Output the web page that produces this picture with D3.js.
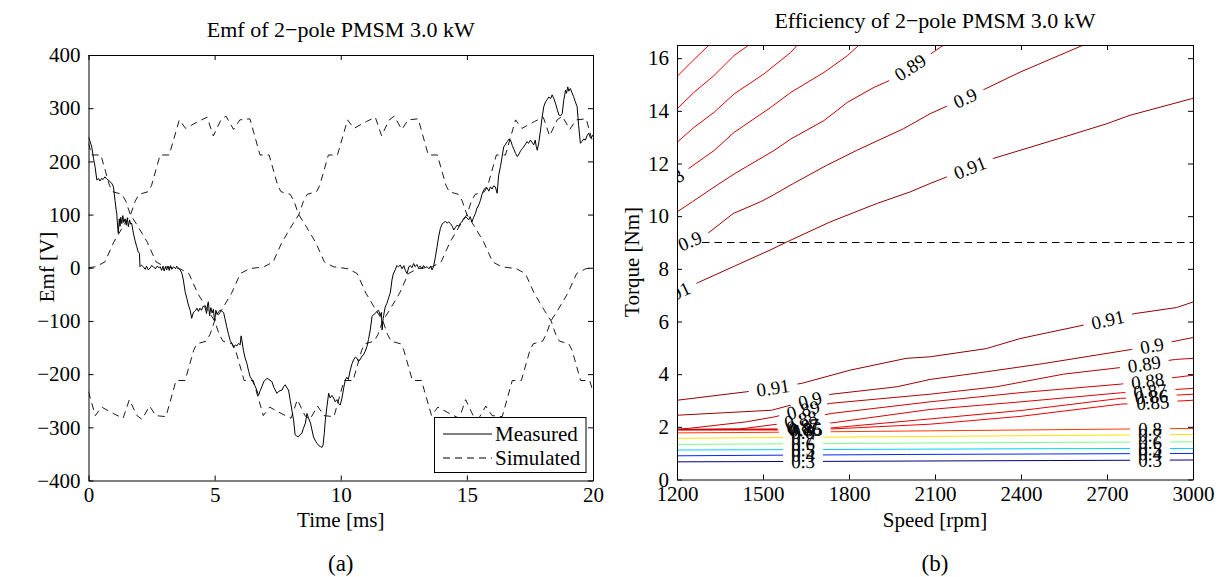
<!DOCTYPE html>
<html><head><meta charset="utf-8">
<script src="https://cdn.jsdelivr.net/npm/d3@7"></script>
<style>
body{margin:0;background:#fff}
svg{display:block}
text{font-family:"Liberation Serif","Times New Roman",serif;fill:#000}
</style>
</head><body>
<svg id="chart" width="1223" height="577"></svg>
<script>
// ---------------- Data: left panel (Emf) ----------------
const timeTicks = [0, 5, 10, 15, 20];
const emfTicks = [-400, -300, -200, -100, 0, 100, 200, 300, 400];

const measured = [
[0,246],[0.06,238],[0.13,227],[0.2,205],[0.26,190],[0.33,165],[0.4,168],[0.45,163],[0.52,168],[0.58,166],[0.65,171],[0.72,167],[0.78,165],[0.85,162],[0.92,159],[0.99,152],[1.05,127],[1.1,108],[1.12,102],[1.15,80],[1.18,65],[1.22,92],[1.25,78],[1.28,95],[1.32,83],[1.36,98],[1.4,85],[1.45,92],[1.5,80],[1.54,94],[1.58,77],[1.63,90],[1.67,82],[1.71,84],[1.78,65],[1.84,52],[1.91,40],[1.97,30],[2.02,27],[2.04,2],[2.1,5],[2.17,2],[2.25,-3],[2.3,3],[2.37,-4],[2.45,0],[2.5,4],[2.57,2],[2.65,-2],[2.72,3],[2.8,0],[2.84,2],[2.9,-5],[2.95,3],[3.0,-6],[3.05,2],[3.1,-4],[3.15,3],[3.2,-5],[3.25,4],[3.3,-3],[3.37,2],[3.45,-2],[3.5,3],[3.57,-1],[3.63,-4],[3.7,-10],[3.76,-23],[3.83,-45],[3.9,-58],[3.96,-70],[4.03,-80],[4.09,-95],[4.15,-85],[4.2,-82],[4.25,-80],[4.3,-76],[4.36,-82],[4.42,-76],[4.48,-80],[4.55,-72],[4.62,-74],[4.68,-86],[4.72,-70],[4.75,-64],[4.8,-90],[4.85,-75],[4.9,-85],[4.95,-78],[5.0,-100],[5.05,-80],[5.1,-88],[5.15,-83],[5.22,-80],[5.28,-81],[5.36,-85],[5.42,-98],[5.48,-111],[5.55,-125],[5.62,-137],[5.68,-142],[5.75,-150],[5.82,-145],[5.88,-147],[5.95,-142],[6.01,-145],[6.05,-128],[6.08,-136],[6.14,-155],[6.2,-168],[6.28,-180],[6.35,-195],[6.41,-205],[6.48,-210],[6.54,-217],[6.6,-222],[6.67,-230],[6.74,-240],[6.8,-232],[6.87,-224],[6.95,-214],[7.07,-208],[7.15,-210],[7.27,-214],[7.35,-225],[7.47,-236],[7.55,-232],[7.67,-230],[7.73,-224],[7.8,-220],[7.87,-226],[7.93,-230],[8.0,-250],[8.07,-270],[8.13,-286],[8.19,-314],[8.25,-316],[8.32,-318],[8.38,-314],[8.45,-312],[8.52,-302],[8.6,-292],[8.66,-274],[8.72,-282],[8.8,-292],[8.86,-305],[8.92,-318],[9.0,-326],[9.06,-330],[9.12,-334],[9.19,-336],[9.25,-338],[9.3,-333],[9.35,-310],[9.39,-286],[9.45,-262],[9.52,-236],[9.58,-245],[9.65,-240],[9.72,-245],[9.78,-252],[9.85,-248],[9.91,-255],[9.98,-258],[10.05,-245],[10.12,-225],[10.18,-211],[10.24,-206],[10.3,-210],[10.38,-192],[10.45,-180],[10.51,-173],[10.58,-168],[10.64,-170],[10.7,-176],[10.78,-172],[10.84,-166],[10.9,-164],[10.97,-157],[11.04,-148],[11.1,-135],[11.17,-117],[11.24,-92],[11.3,-88],[11.37,-86],[11.43,-82],[11.5,-80],[11.57,-90],[11.61,-84],[11.64,-117],[11.68,-96],[11.7,-90],[11.76,-74],[11.83,-67],[11.9,-56],[11.96,-48],[12.0,-35],[12.03,-23],[12.08,-12],[12.16,-4],[12.22,4],[12.29,2],[12.36,5],[12.43,-2],[12.5,4],[12.56,-5],[12.63,-11],[12.7,2],[12.76,4],[12.82,0],[12.89,8],[12.95,2],[13.02,6],[13.08,0],[13.15,3],[13.22,-2],[13.28,4],[13.35,0],[13.42,2],[13.5,-2],[13.56,3],[13.62,-4],[13.68,2],[13.75,20],[13.82,40],[13.88,58],[13.95,74],[14.02,82],[14.08,85],[14.15,87],[14.22,84],[14.28,86],[14.35,83],[14.42,78],[14.48,71],[14.55,76],[14.61,80],[14.68,78],[14.74,84],[14.8,86],[14.87,92],[14.94,96],[15.0,94],[15.07,90],[15.13,96],[15.2,86],[15.27,95],[15.34,102],[15.4,112],[15.47,118],[15.54,127],[15.6,138],[15.67,146],[15.73,150],[15.8,150],[15.87,144],[15.93,152],[16.0,148],[16.06,154],[16.13,152],[16.2,140],[16.26,174],[16.33,190],[16.4,210],[16.46,227],[16.53,232],[16.6,237],[16.67,242],[16.73,240],[16.8,230],[16.87,222],[16.93,215],[17.0,209],[17.07,214],[17.13,220],[17.2,224],[17.25,227],[17.32,232],[17.38,237],[17.45,234],[17.52,240],[17.58,236],[17.65,231],[17.71,240],[17.75,228],[17.79,221],[17.85,235],[17.92,259],[17.98,282],[18.05,303],[18.12,312],[18.18,316],[18.25,321],[18.32,318],[18.38,325],[18.45,318],[18.52,308],[18.58,298],[18.65,287],[18.72,286],[18.78,290],[18.84,315],[18.88,325],[18.91,334],[18.95,328],[19.0,340],[19.04,332],[19.1,337],[19.16,330],[19.23,322],[19.3,312],[19.37,303],[19.43,268],[19.5,234],[19.57,238],[19.63,242],[19.7,240],[19.76,248],[19.83,253],[19.9,244],[19.96,246],[20,250]
];

const simulatedA = [
[0,0],[0.3,2],[0.65,11],[1,48],[1.4,80],[1.67,100],[1.85,125],[2,138],[2.37,143],[2.5,155],[2.84,212],[3.2,212],[3.6,278],[3.85,262],[4.35,275],[4.7,283],[4.95,248],[5.25,278],[5.45,285],[5.75,260],[6,278],[6.4,280],[6.8,212],[7.16,212],[7.5,155],[7.63,143],[8,138],[8.15,125],[8.33,100],[8.6,80],[9,48],[9.35,11],[9.7,2],[10,0],
[10.3,-2],[10.65,-11],[11,-48],[11.4,-80],[11.67,-100],[11.85,-125],[12,-138],[12.37,-143],[12.5,-155],[12.84,-212],[13.2,-212],[13.6,-278],[13.85,-262],[14.35,-275],[14.7,-283],[14.95,-248],[15.25,-278],[15.45,-285],[15.75,-260],[16,-278],[16.4,-280],[16.8,-212],[17.16,-212],[17.5,-155],[17.63,-143],[18,-138],[18.15,-125],[18.33,-100],[18.6,-80],[19,-48],[19.35,-11],[19.7,-2],[20,0]
];
const simulatedB = [
[0,-233],[0.27,-278],[0.52,-262],[1.02,-275],[1.37,-283],[1.62,-248],[1.92,-278],[2.12,-285],[2.42,-260],[2.67,-278],[3.07,-280],[3.47,-212],[3.83,-212],[4.17,-155],[4.3,-143],[4.67,-138],[4.82,-125],[5,-100],[5.27,-80],[5.67,-48],[6.02,-11],[6.37,-2],[6.67,0],
[6.97,2],[7.32,11],[7.67,48],[8.07,80],[8.34,100],[8.52,125],[8.67,138],[9.04,143],[9.17,155],[9.51,212],[9.87,212],[10.27,278],[10.52,262],[11.02,275],[11.37,283],[11.62,248],[11.92,278],[12.12,285],[12.42,260],[12.67,278],[13.07,280],[13.47,212],[13.83,212],[14.17,155],[14.3,143],[14.67,138],[14.82,125],[15,100],[15.27,80],[15.67,48],[16.02,11],[16.37,2],[16.67,0],
[16.97,-2],[17.32,-11],[17.67,-48],[18.07,-80],[18.34,-100],[18.52,-125],[18.67,-138],[19.04,-143],[19.17,-155],[19.51,-212],[19.87,-212],[20,-233]
];
const simulatedC = [
[0,234],[0.13,212],[0.49,212],[0.83,155],[0.96,143],[1.33,138],[1.48,125],[1.66,100],[1.93,80],[2.33,48],[2.68,11],[3.03,2],[3.33,0],
[3.63,-2],[3.98,-11],[4.33,-48],[4.73,-80],[5,-100],[5.18,-125],[5.33,-138],[5.7,-143],[5.83,-155],[6.17,-212],[6.53,-212],[6.93,-278],[7.18,-262],[7.68,-275],[8.03,-283],[8.28,-248],[8.58,-278],[8.78,-285],[9.08,-260],[9.33,-278],[9.73,-280],[10.13,-212],[10.49,-212],[10.83,-155],[10.96,-143],[11.33,-138],[11.48,-125],[11.66,-100],[11.93,-80],[12.33,-48],[12.68,-11],[13.03,-2],[13.33,0],
[13.63,2],[13.98,11],[14.33,48],[14.73,80],[15,100],[15.18,125],[15.33,138],[15.7,143],[15.83,155],[16.17,212],[16.53,212],[16.93,278],[17.18,262],[17.68,275],[18.03,283],[18.28,248],[18.58,278],[18.78,285],[19.08,260],[19.33,278],[19.73,280],[20,234]
];
const seriesNames = ["Measured", "Simulated"];

// ---------------- Data: right panel (Efficiency contours) ----------------
const speedTicks = [1200, 1500, 1800, 2100, 2400, 2700, 3000];
const torqueTicks = [0, 2, 4, 6, 8, 10, 12, 14, 16];
const ratedTorque = 9;

// upper branch contours (speed [rpm], torque [Nm])
const effUp085 = [[1200,15.3],[1250,15.85],[1312,16.5]];
const effUp086 = [[1200,14.07],[1259,14.7],[1329,15.34],[1399,16.1],[1451,16.5]];
const effUp087 = [[1200,12.8],[1259,13.37],[1329,13.94],[1399,14.64],[1503,15.4],[1597,16.22],[1620,16.5]];
const effUp088 = [[1200,11.5],[1242,11.82],[1329,12.49],[1399,13.18],[1527,14.13],[1597,14.7],[1713,15.46],[1794,16.09],[1835,16.5]];
const effUp089 = [[1200,10.16],[1254,10.55],[1315,11.0],[1399,11.6],[1538,12.49],[1597,12.93],[1713,13.63],[1794,14.32],[1887,14.89],[1943,15.16],[2077,16.1],[2130,16.5]];
const effUp090 = [[1200,8.85],[1309,9.36],[1396,10.1],[1492,10.55],[1524,10.73],[1606,11.24],[1722,11.93],[1827,12.5],[1990,13.32],[2083,13.89],[2146,14.2],[2269,14.8],[2397,15.47],[2618,16.5]];
const effUp091 = [[1200,7.1],[1274,7.48],[1400,8.1],[1524,8.71],[1583,9.02],[1734,9.78],[1897,10.48],[2013,10.92],[2083,11.24],[2141,11.49],[2303,12.19],[2548,13.0],[2699,13.51],[2780,13.83],[2995,14.46],[3000,14.48]];
// lower branch contours
const effLo091 = [[1200,3.01],[1442,3.33],[1635,3.65],[1803,4.15],[1999,4.6],[2083,4.66],[2279,4.97],[2396,5.35],[2617,5.86],[2797,6.3],[2943,6.53],[3000,6.74]];
const effLo090 = [[1200,2.44],[1530,2.63],[1740,3.24],[1967,3.52],[2083,3.8],[2279,4.09],[2477,4.4],[2786,4.94],[2926,5.23],[3000,5.39]];
const effLo089 = [[1200,1.91],[1240,1.94],[1442,2.19],[1541,2.38],[1733,2.89],[2083,3.24],[2314,3.52],[2548,4.0],[2746,4.25],[2939,4.56],[3000,4.6]];
const effLo088 = [[1200,1.9],[1420,1.92],[1550,2.1],[1740,2.51],[2083,2.95],[2400,3.3],[2746,3.62],[3000,3.96]];
const effLo087 = [[1200,1.9],[1550,1.92],[1740,2.15],[2083,2.66],[2400,2.95],[2746,3.29],[3000,3.46]];
const effLo086 = [[1200,1.89],[1550,1.9],[1740,1.96],[2083,2.3],[2400,2.62],[2746,3.08],[3000,3.24]];
const effLo085 = [[1200,1.88],[1550,1.88],[1740,1.92],[2083,2.1],[2400,2.4],[2746,2.86],[3000,3.01]];
const eff080 = [[1200,1.77],[1500,1.79],[2000,1.84],[2500,1.89],[3000,1.94]];
const eff070 = [[1200,1.56],[1500,1.59],[2000,1.63],[2500,1.67],[3000,1.71]];
const eff060 = [[1200,1.33],[1500,1.35],[2000,1.38],[2500,1.41],[3000,1.43]];
const eff050 = [[1200,1.12],[1500,1.13],[2000,1.15],[2500,1.17],[3000,1.18]];
const eff040 = [[1200,0.9],[1500,0.92],[2000,0.95],[2500,0.97],[3000,0.99]];
const eff030 = [[1200,0.67],[1500,0.68],[2000,0.7],[2500,0.72],[3000,0.74]];

const contourLevels = [0.3, 0.4, 0.5, 0.6, 0.7, 0.8, 0.85, 0.86, 0.87, 0.88, 0.89, 0.9, 0.91];
const contourColors = ["#000080","#0028ff","#00cfff","#77ff88","#ffe000","#ff3800","#f00000","#e80000","#dc0000","#d00000","#b80000","#a00000","#900000"];

const contours = [
  {level:0.3, pts:eff030},{level:0.4, pts:eff040},{level:0.5, pts:eff050},{level:0.6, pts:eff060},
  {level:0.7, pts:eff070},{level:0.8, pts:eff080},
  {level:0.85, pts:effLo085},{level:0.86, pts:effLo086},{level:0.87, pts:effLo087},{level:0.88, pts:effLo088},
  {level:0.89, pts:effLo089},{level:0.9, pts:effLo090},{level:0.91, pts:effLo091},
  {level:0.85, pts:effUp085},{level:0.86, pts:effUp086},{level:0.87, pts:effUp087},{level:0.88, pts:effUp088},
  {level:0.89, pts:effUp089},{level:0.9, pts:effUp090},{level:0.91, pts:effUp091}
];
// contour label anchors: [curve, speed]
const labelSpots = [
  [effUp091,2222],[effUp091,1190],[effUp090,2205],[effUp090,1245],[effUp089,2013],[effUp088,1170],
  [effLo091,1535],[effLo091,2703],[effLo090,1664],[effLo090,2857],[effLo089,1640],[effLo089,2830],
  [effLo088,1632],[effLo088,2842],[effLo087,1640],[effLo087,2850],[effLo086,1645],[effLo086,2855],
  [effLo085,1650],[effLo085,2860],
  [eff080,1640],[eff080,2850],[eff070,1640],[eff070,2850],[eff060,1640],[eff060,2850],
  [eff050,1640],[eff050,2850],[eff040,1640],[eff040,2850],[eff030,1640],[eff030,2850]
];

// ---------------- Drawing ----------------
const svg = d3.select("#chart");
const FONT = 21, TITLE = 22, LF = 19;

function styleAxis(g){
  g.selectAll("path.domain").attr("stroke","#000").attr("stroke-width",1);
  g.selectAll(".tick line").attr("stroke","#000").attr("stroke-width",1);
  g.selectAll("text").attr("font-family",'"Liberation Serif","Times New Roman",serif').attr("font-size",FONT).attr("fill","#000");
  g.attr("font-family",null).attr("font-size",null);
}
function boxAxes(x, y, xt, yt){
  const [x0,x1] = x.range(), [y0,y1] = y.range();
  svg.append("g").attr("transform",`translate(0,${y0})`)
    .call(d3.axisBottom(x).tickValues(xt).tickSizeInner(-5).tickSizeOuter(0).tickPadding(7).tickFormat(d3.format("d"))).call(styleAxis);
  svg.append("g").attr("transform",`translate(0,${y1})`)
    .call(d3.axisTop(x).tickValues(xt).tickSizeInner(-5).tickSizeOuter(0).tickFormat(()=>"")).call(styleAxis);
  svg.append("g").attr("transform",`translate(${x0},0)`)
    .call(d3.axisLeft(y).tickValues(yt).tickSizeInner(-5).tickSizeOuter(0).tickPadding(8).tickFormat(d3.format("d"))).call(styleAxis);
  svg.append("g").attr("transform",`translate(${x1},0)`)
    .call(d3.axisRight(y).tickValues(yt).tickSizeInner(-5).tickSizeOuter(0).tickFormat(()=>"")).call(styleAxis);
}

// ----- Left panel -----
const xL = d3.scaleLinear().domain([0,20]).range([88.5,593]);
const yL = d3.scaleLinear().domain([-400,400]).range([480.5,55]);
svg.append("clipPath").attr("id","clipL").append("rect")
  .attr("x",xL(0)).attr("y",yL(400)).attr("width",xL(20)-xL(0)).attr("height",yL(-400)-yL(400));
const lineL = d3.line().x(d=>xL(d[0])).y(d=>yL(d[1]));
const gL = svg.append("g").attr("clip-path","url(#clipL)");
[simulatedA, simulatedB, simulatedC].forEach(s=>{
  gL.append("path").attr("d",lineL(s)).attr("fill","none").attr("stroke","#000")
    .attr("stroke-width",0.9).attr("stroke-dasharray","7,5");
});
gL.append("path").attr("d",lineL(measured)).attr("fill","none").attr("stroke","#000").attr("stroke-width",1);
boxAxes(xL, yL, timeTicks, emfTicks);

// legend
const lg = svg.append("g");
lg.append("rect").attr("x",434.5).attr("y",417.5).attr("width",151.5).attr("height",55).attr("fill","#fff").attr("stroke","#000");
seriesNames.forEach((n,i)=>{
  const yy = 434 + i*24;
  lg.append("line").attr("x1",443).attr("x2",492).attr("y1",yy).attr("y2",yy).attr("stroke","#000")
    .attr("stroke-width",1).attr("stroke-dasharray", i===1 ? "7,5" : null);
  lg.append("text").attr("x",495).attr("y",yy+7).attr("font-size",FONT).text(n);
});

svg.append("text").attr("x",340.75).attr("y",37).attr("text-anchor","middle").attr("font-size",TITLE).text("Emf of 2\u2212pole PMSM 3.0 kW");
svg.append("text").attr("x",340.75).attr("y",527).attr("text-anchor","middle").attr("font-size",FONT).text("Time [ms]");
svg.append("text").attr("transform","translate(54,267) rotate(-90)").attr("text-anchor","middle").attr("font-size",FONT).text("Emf [V]");
svg.append("text").attr("x",340.75).attr("y",571).attr("text-anchor","middle").attr("font-size",23).text("(a)");

// ----- Right panel -----
const xR = d3.scaleLinear().domain([1200,3000]).range([677,1193]);
const yR = d3.scaleLinear().domain([0,16.5]).range([479.5,45]);
svg.append("clipPath").attr("id","clipR").append("rect")
  .attr("x",xR(1200)).attr("y",yR(16.5)).attr("width",xR(3000)-xR(1200)).attr("height",yR(0)-yR(16.5));
const gR = svg.append("g").attr("clip-path","url(#clipR)");
const lineR = d3.line().x(d=>xR(d[0])).y(d=>yR(d[1]));
const colorOf = d3.scaleOrdinal().domain(contourLevels).range(contourColors);

contours.forEach(c=>{
  gR.append("path").attr("d",lineR(c.pts)).attr("fill","none")
    .attr("stroke",colorOf(c.level)).attr("stroke-width",1);
});
gR.append("line").attr("x1",xR(1200)).attr("x2",xR(3000)).attr("y1",yR(ratedTorque)).attr("y2",yR(ratedTorque))
  .attr("stroke","#000").attr("stroke-width",1).attr("stroke-dasharray","7.5,5");

function placeOn(pts, s){
  let i = d3.bisector(d=>d[0]).left(pts, s);
  i = Math.max(1, Math.min(pts.length-1, i));
  const a = pts[i-1], b = pts[i];
  const f = (s-a[0])/(b[0]-a[0]);
  const T = a[1] + f*(b[1]-a[1]);
  const ang = Math.atan2(yR(b[1])-yR(a[1]), xR(b[0])-xR(a[0]))*180/Math.PI;
  return [xR(s), yR(T), ang];
}
const levelOf = pts => contours.find(c=>c.pts===pts).level;
const gBg = gR.append("g"), gTx = gR.append("g");
labelSpots.forEach(([pts, s])=>{
  const [px, py, ang] = placeOn(pts, s);
  const t = gTx.append("text").attr("transform",`translate(${px},${py}) rotate(${ang})`)
    .attr("text-anchor","middle").attr("dy","0.35em").attr("font-size",LF).text(String(levelOf(pts)));
  const w = t.node().getComputedTextLength() + 16;
  gBg.append("rect").attr("transform",`translate(${px},${py}) rotate(${ang})`)
    .attr("x",-w/2).attr("y",-6).attr("width",w).attr("height",12).attr("fill","#fff");
});
boxAxes(xR, yR, speedTicks, torqueTicks);

svg.append("text").attr("x",935).attr("y",28).attr("text-anchor","middle").attr("font-size",TITLE).text("Efficiency of 2\u2212pole PMSM 3.0 kW");
svg.append("text").attr("x",935).attr("y",527).attr("text-anchor","middle").attr("font-size",FONT).text("Speed [rpm]");
svg.append("text").attr("transform","translate(639,262) rotate(-90)").attr("text-anchor","middle").attr("font-size",FONT).text("Torque [Nm]");
svg.append("text").attr("x",935).attr("y",571).attr("text-anchor","middle").attr("font-size",23).text("(b)");
</script>
</body></html>
